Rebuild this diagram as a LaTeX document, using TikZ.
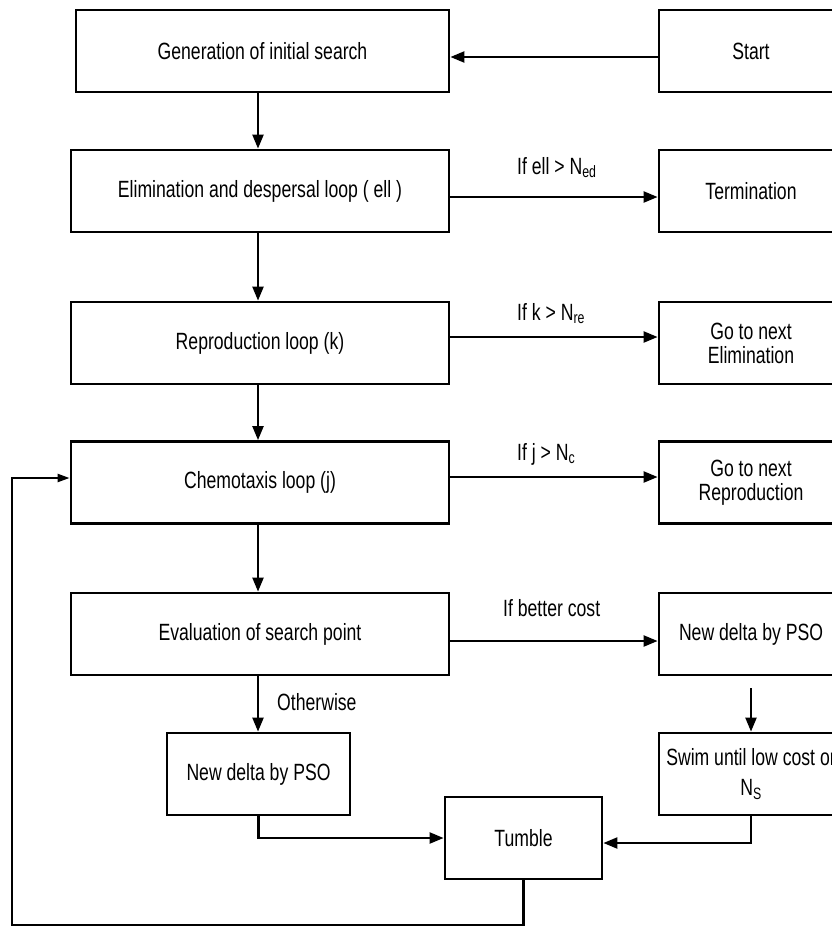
\documentclass[tikz,border=0pt]{standalone}
\usepackage{fontspec}
\setmainfont{Liberation Sans}[FakeStretch=0.75]
\usetikzlibrary{arrows.meta,positioning}

\begin{document}
\begin{tikzpicture}[x=1pt, y=-1pt, >={Triangle[length=14pt,width=11pt]},
  box/.style={draw, line width=2.8pt, minimum height=82pt, align=center,
    font=\fontsize{23.5}{24}\selectfont},
  cond/.style={anchor=base west, inner sep=0pt, font=\fontsize{23.5}{24}\selectfont},
  flow/.style={line width=2.2pt}]
  \useasboundingbox (0,0) rectangle (832,926);

  % left column
  \node[box, minimum width=373pt] (gen) at (262.5,51) {Generation of initial search};
  \node[box, minimum width=378pt] (elim) at (260,191) {Elimination and despersal loop ( ell )};
  \node[box, minimum width=378pt] (repro) at (260,343) {Reproduction loop (k)};
  \node[box, minimum width=378pt] (chemo) at (260,482.5) {Chemotaxis loop (j)};
  \node[box, minimum width=378pt] (eval) at (260,634) {Evaluation of search point};
  \node[box, minimum width=183pt] (psoleft) at (258.5,774) {New delta by PSO};
  \node[box, minimum width=157pt] (tumble) at (523.5,838) {Tumble};

  % right column
  \node[box, minimum width=184pt] (start) at (751,51) {Start};
  \node[box, minimum width=184pt] (term) at (751,191) {Termination};
  \node[box, minimum width=184pt] (nextelim) at (751,343) {Go to next\\Elimination};
  \node[box, minimum width=184pt] (nextrepro) at (751,482.5) {Go to next\\Reproduction};
  \node[box, minimum width=184pt] (psoright) at (751,634) {New delta by PSO};
  \node[box, minimum width=184pt] (swim) at (751,774) {Swim until low cost or\\[5.5pt]N\textsubscript{S}};

  \coordinate (spine) at (258,0);
  \coordinate (corner) at (12,925);

  % main chain
  \draw[flow,->] ([yshift=-6pt]start.west) -- ([yshift=-6pt]gen.east);
  \draw[flow,->] (gen.south -| spine) -- (elim.north -| spine);
  \draw[flow,->] (elim.south -| spine) -- (repro.north -| spine);
  \draw[flow,->] (repro.south -| spine) -- (chemo.north -| spine);
  \draw[flow,->] (chemo.south -| spine) -- (eval.north -| spine);
  \draw[flow,->] (eval.south -| spine) -- (psoleft.north -| spine);

  % exits to the right
  \draw[flow,->] ([yshift=-6pt]elim.east) -- ([yshift=-6pt]term.west);
  \draw[flow,->] ([yshift=6pt]repro.east) -- ([yshift=6pt]nextelim.west);
  \draw[flow,->] ([yshift=5.5pt]chemo.east) -- ([yshift=5.5pt]nextrepro.west);
  \draw[flow,->] ([yshift=-7pt]eval.east) -- ([yshift=-7pt]psoright.west);
  \node[cond] (ifell) at (517,174) {If ell > N\textsubscript{ed}};
  \node[cond] (ifk) at (517,320) {If k > N\textsubscript{re}};
  \node[cond] (ifj) at (517,460) {If j > N\textsubscript{c}};
  \node[cond] (ifbetter) at (503,616) {If better cost};
  \node[cond] (otherwise) at (277,710) {Otherwise};

  % swim and tumble
  \draw[flow,->] ([yshift=-12pt]psoright.south) -- (swim.north);
  \draw[flow,->] (swim.south) |- ([yshift=-5pt]tumble.east);
  \draw[flow,->] (psoleft.south) |- (tumble.west);
  \draw[flow,-{Triangle[length=12pt,width=8pt]}] (tumble.south) |- (corner)
    |- ([yshift=4.5pt]chemo.west);
\end{tikzpicture}
\end{document}
